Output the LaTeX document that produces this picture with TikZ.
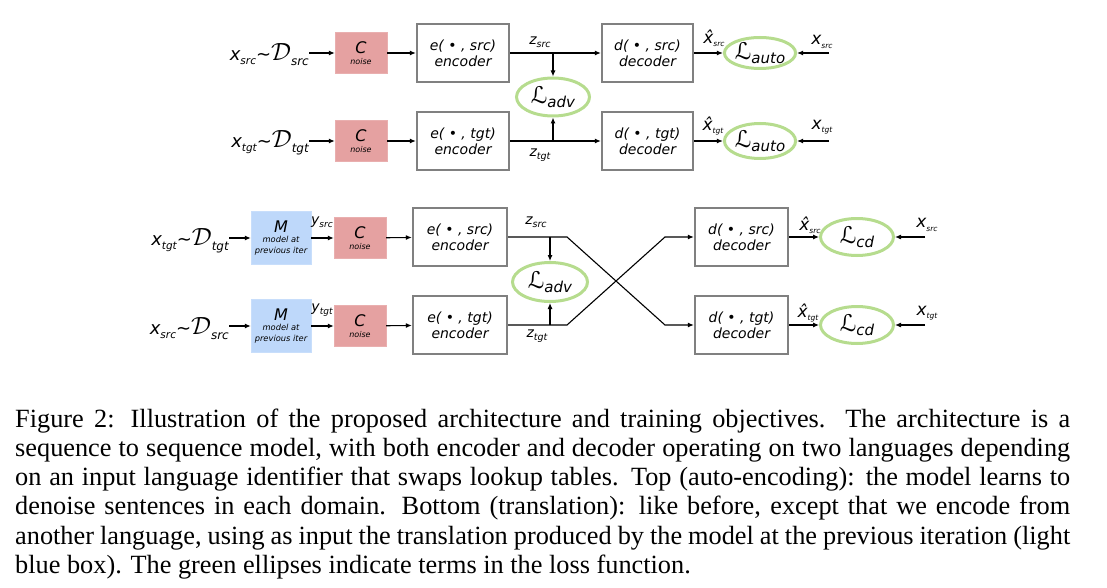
\documentclass[tikz,border=0pt]{standalone}
\usepackage{fontspec}
\setmainfont{DejaVu Sans}
\newfontfamily\capfont{Liberation Serif}
\usetikzlibrary{shapes.geometric,arrows.meta}

\definecolor{noisered}{RGB}{229,161,161}
\definecolor{modelblue}{RGB}{190,216,250}
\definecolor{lossgreen}{RGB}{182,220,142}
\definecolor{boxgray}{RGB}{128,128,128}

% big symbol with a small lowered subscript
\newcommand{\vsym}[4]{{\fontsize{#1}{#1}\selectfont #3}\raisebox{-0.2\dimexpr#1pt\relax}{\fontsize{#2}{#2}\selectfont #4}}
\newcommand{\sampled}[2]{\vsym{18}{10.5}{x}{#1}{\fontsize{18}{18}\selectfont\textasciitilde}\vsym{25}{12}{$\mathcal{D}$}{#2}}
\newcommand{\lossterm}[1]{\vsym{23}{15}{ℒ}{#1}}
\newcommand{\noiselbl}{{\fontsize{16}{16}\selectfont C}\\[-1pt]{\fontsize{8}{8}\selectfont noise}}
\newcommand{\modellbl}{{\fontsize{16}{16}\selectfont M}\\[-2pt]{\fontsize{8.3}{9}\selectfont model at}\\[-1pt]{\fontsize{8.3}{9}\selectfont previous iter}}

\begin{document}
\begin{tikzpicture}[x=1pt,y=-1pt,
  every node/.style={font=\itshape, inner sep=0pt},
  box/.style={draw=boxgray, line width=2.3pt, minimum width=92pt, minimum height=58pt, align=center, font=\itshape\fontsize{14}{16}\selectfont},
  noise/.style={fill=noisered, draw=noisered!85!white, minimum width=52pt, minimum height=41pt, align=center},
  model/.style={fill=modelblue, draw=modelblue!85!white, minimum width=60pt, minimum height=53pt, align=center},
  loss/.style={ellipse, draw=lossgreen, line width=3pt, minimum width=70pt, minimum height=34pt},
  arr/.style={-{Latex[length=6pt,width=5pt]}, line width=1.1pt}]
\useasboundingbox (0,0) rectangle (1107,588);

% top: auto-encoding
\node[anchor=east] (in1) at (309,55) {\sampled{src}{src}};
\node[anchor=east] (in2) at (309,143) {\sampled{tgt}{tgt}};
\node[noise] (ns1) at (361,53) {\noiselbl};
\node[noise] (ns2) at (361,141) {\noiselbl};
\node[box] (enc1) at (463,53) {e( \textbullet{} , src)\\encoder};
\node[box] (enc2) at (463,141) {e( \textbullet{} , tgt)\\encoder};
\node[box, minimum width=91pt] (dec1) at (647.5,53) {d( \textbullet{} , src)\\decoder};
\node[box, minimum width=91pt] (dec2) at (647.5,141) {d( \textbullet{} , tgt)\\decoder};
\node[loss, minimum width=73pt, minimum height=38pt] (adv1) at (553,97) {\lossterm{adv}};
\node[loss, minimum width=66pt, minimum height=31pt] (auto1) at (760,53) {\lossterm{auto}};
\node[loss, minimum width=66pt, minimum height=35pt] (auto2) at (760,141) {\lossterm{auto}};
\node (z1) at (540,42) {\vsym{14}{9.5}{z}{src}};
\node (z2) at (540,155) {\vsym{14}{9.5}{z}{tgt}};
\node (xh1) at (714,38) {\vsym{17}{7.5}{\^x}{src}};
\node (xh2) at (713,126) {\vsym{17}{7.5}{\^x}{tgt}};
\node (xr1) at (822,42) {\vsym{17}{7.5}{x}{src}};
\node (xr2) at (822,127) {\vsym{17}{7.5}{x}{tgt}};
\coordinate (t1) at (829,53);
\coordinate (t2) at (829,141);

\draw[arr] (in1.east |- ns1) -- (ns1);
\draw[arr] (in2.east |- ns2) -- (ns2);
\draw[arr] (ns1) -- (enc1);
\draw[arr] (ns2) -- (enc2);
\draw[arr] (enc1) -- (dec1);
\draw[arr] (enc2) -- (dec2);
\draw[arr] (adv1 |- enc1.east) -- (adv1);
\draw[arr] (adv1 |- enc2.east) -- (adv1);
\draw[arr] (dec1) -- (auto1);
\draw[arr] (dec2) -- (auto2);
\draw[arr] (t1) -- (auto1);
\draw[arr] (t2) -- (auto2);

% bottom: translation
\node[anchor=east] (in3) at (229,241) {\sampled{tgt}{tgt}};
\node[anchor=east] (in4) at (229,329) {\sampled{src}{src}};
\node[model] (m3) at (281,238) {\modellbl};
\node[model] (m4) at (281,326) {\modellbl};
\node[noise] (ns3) at (360,238) {\noiselbl};
\node[noise] (ns4) at (360,326) {\noiselbl};
\node[box, minimum width=94pt] (enc3) at (460,237) {e( \textbullet{} , src)\\encoder};
\node[box, minimum width=94pt] (enc4) at (460,325) {e( \textbullet{} , tgt)\\encoder};
\node[box, minimum width=93pt] (dec3) at (741.5,237) {d( \textbullet{} , src)\\decoder};
\node[box, minimum width=93pt] (dec4) at (741.5,325) {d( \textbullet{} , tgt)\\decoder};
\node[loss, minimum width=75pt, minimum height=39pt] (adv2) at (550,282) {\lossterm{adv}};
\node[loss, minimum width=73pt, minimum height=37pt] (cd3) at (857,237) {\lossterm{cd}};
\node[loss, minimum width=73pt, minimum height=37pt] (cd4) at (857,325) {\lossterm{cd}};
\node (y3) at (322,222) {\vsym{14}{9}{y}{src}};
\node (y4) at (322,310) {\vsym{14}{9}{y}{tgt}};
\node (z3) at (536,222) {\vsym{14}{9.5}{z}{src}};
\node (z4) at (537,336) {\vsym{14}{9.5}{z}{tgt}};
\node (xh3) at (810,225) {\vsym{17}{7.5}{\^x}{src}};
\node (xh4) at (808,313) {\vsym{17}{7.5}{\^x}{tgt}};
\node (xr3) at (927,225) {\vsym{17}{7.5}{x}{src}};
\node (xr4) at (927,313) {\vsym{17}{7.5}{x}{tgt}};
\coordinate (k1) at (567,237);
\coordinate (k2) at (665,325);
\coordinate (k3) at (567,325);
\coordinate (k4) at (665,237);
\coordinate (t3) at (925,237);
\coordinate (t4) at (925,325);

\draw[arr] (in3.east |- m3) -- (m3);
\draw[arr] (in4.east |- m4) -- (m4);
\draw[arr] (m3) -- (ns3);
\draw[arr] (m4) -- (ns4);
\draw[arr] (ns3) -- (enc3);
\draw[arr] (ns4) -- (enc4);
\draw[arr] (enc3) -- (k1) -- (k2) -- (dec4);
\draw[arr] (enc4) -- (k3) -- (k4) -- (dec3);
\draw[arr] (adv2 |- enc3.east) -- (adv2);
\draw[arr] (adv2 |- enc4.east) -- (adv2);
\draw[arr] (dec3) -- (cd3);
\draw[arr] (dec4) -- (cd4);
\draw[arr] (t3) -- (cd3);
\draw[arr] (t4) -- (cd4);

% caption
\node[anchor=north west, text width=1055pt, align=justify,
  font=\capfont\upshape\fontsize{26.3}{29.2}\selectfont] (caption) at (15,408.5)
  {Figure 2: Illustration of the proposed architecture and training objectives.  The architecture is a\linebreak
   sequence to sequence model, with both encoder and decoder operating on two languages depending\linebreak
   on an input language identifier that swaps lookup tables. Top (auto-encoding): the model learns to\linebreak
   denoise sentences in each domain.  Bottom (translation): like before, except that we encode from\linebreak
   another language, using as input the translation produced by the model at the previous iteration (light\linebreak
   blue box). The green ellipses indicate terms in the loss function.};
\end{tikzpicture}
\end{document}
